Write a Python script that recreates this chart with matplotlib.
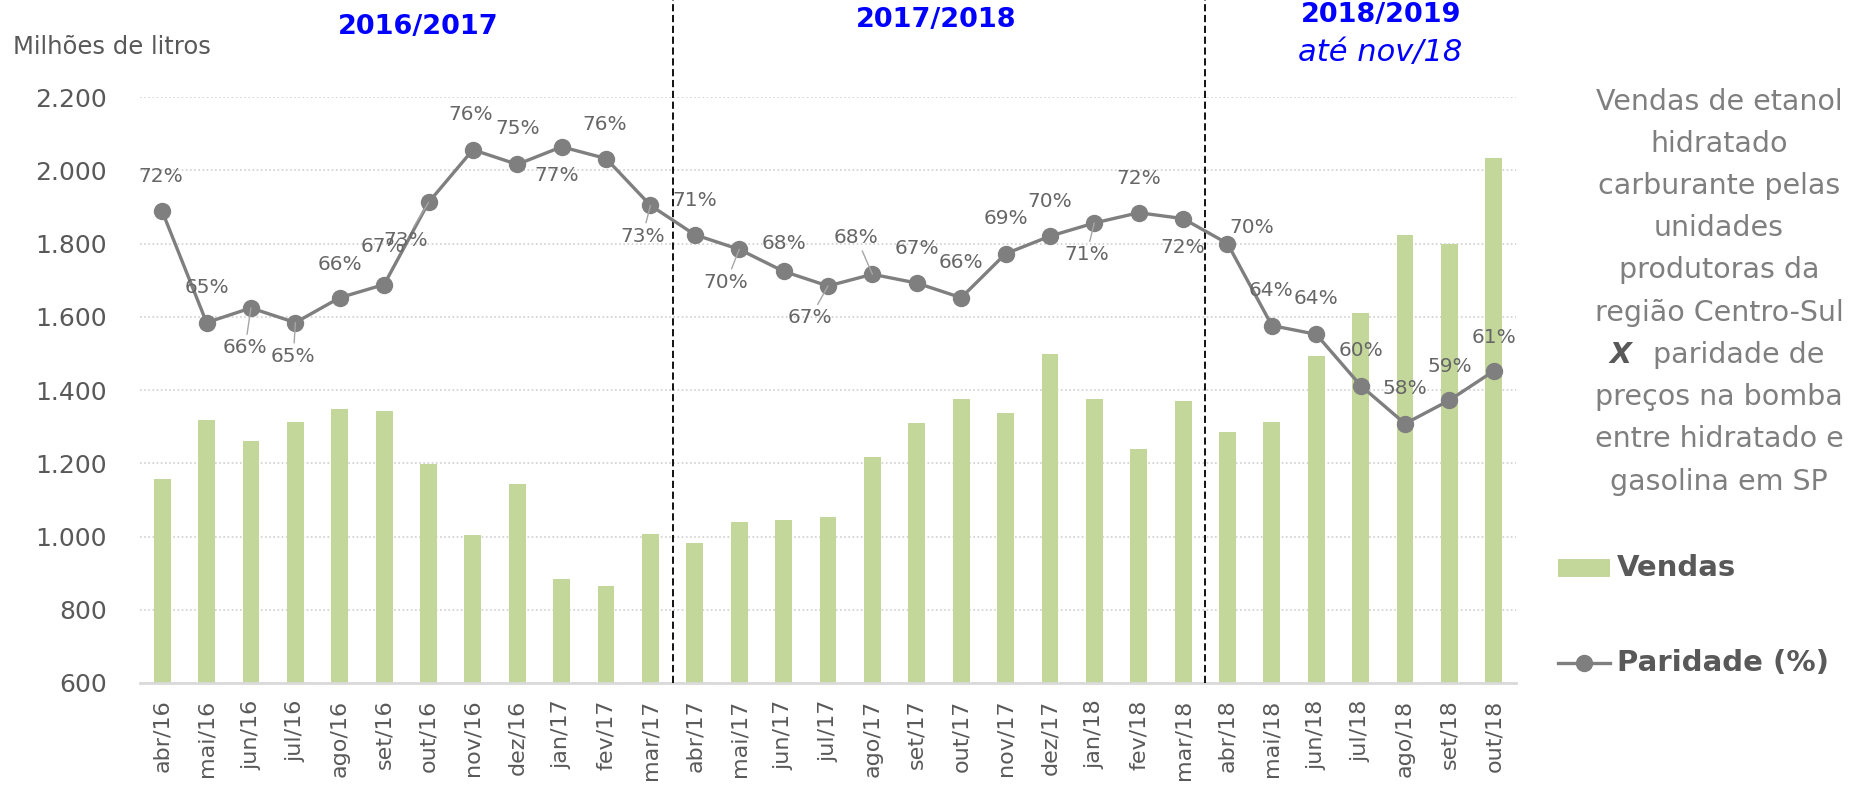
import matplotlib
matplotlib.use('Agg')
import matplotlib.pyplot as plt
from matplotlib.patches import Rectangle
from matplotlib.lines import Line2D
from matplotlib.ticker import FuncFormatter

# --- data ---
meses = ['abr/16', 'mai/16', 'jun/16', 'jul/16', 'ago/16', 'set/16', 'out/16', 'nov/16',
         'dez/16', 'jan/17', 'fev/17', 'mar/17',
         'abr/17', 'mai/17', 'jun/17', 'jul/17', 'ago/17', 'set/17', 'out/17', 'nov/17',
         'dez/17', 'jan/18', 'fev/18', 'mar/18',
         'abr/18', 'mai/18', 'jun/18', 'jul/18', 'ago/18', 'set/18', 'out/18']

# Vendas (milhões de litros)
vendas = [1157, 1318, 1260, 1313, 1348, 1342, 1197, 1003, 1142, 884, 865, 1007,
          983, 1039, 1045, 1054, 1218, 1309, 1375, 1336, 1497, 1375, 1240, 1370,
          1284, 1313, 1492, 1609, 1822, 1800, 2033]

# Paridade hidratado / gasolina em SP (%)
paridade = [72.2, 64.6, 65.6, 64.6, 66.3, 67.2, 72.8, 76.4, 75.4, 76.6, 75.8, 72.6,
            70.6, 69.6, 68.1, 67.1, 67.9, 67.3, 66.3, 69.3, 70.5, 71.4, 72.1, 71.7,
            70.0, 64.4, 63.8, 60.3, 57.7, 59.3, 61.3]

safras = ['2016/2017', '2017/2018', '2018/2019']
safra_sub = 'até nov/18'
legenda = ['Vendas', 'Paridade (%)']

# label placement (pixels from the point) and where a leader line is drawn
label_offsets = [(-1, 35), (0, 35), (-6, -40), (-2, -34), (0, 33), (-1, 38), (-23, -38),
                 (-2, 35), (0, 36), (-5, -29), (-1, 34), (-8, -31),
                 (0, 34), (-13, -33), (0, 28), (-18, -32), (-16, 37), (0, 35), (0, 35),
                 (0, 35), (0, 35), (-8, -32), (0, 34), (0, -29),
                 (24, 16), (-1, 35), (0, 36), (0, 35), (0, 35), (0, 34), (0, 33)]
leader = {2, 3, 6, 11, 13, 15, 16, 21}

side_text = ['Vendas de etanol', 'hidratado', 'carburante pelas', 'unidades',
             'produtoras da', 'região Centro-Sul', None, 'preços na bomba',
             'entre hidratado e', 'gasolina em SP']

plt.rcParams['font.family'] = ['DejaVu Sans']

bar_color = '#c4d79b'
line_color = '#7f7f7f'
text_gray = '#595959'

W, H = 1853, 785
fig = plt.figure(figsize=(W / 100, H / 100), dpi=100, facecolor='white')
ax = fig.add_axes([140 / W, 1 - 683 / H, (1516 - 140) / W, (683 - 97) / H])

x = list(range(len(meses)))
ax.bar(x, vendas, width=0.38, color=bar_color, zorder=2)

ax.set_xlim(-0.5, len(meses) - 0.5)
ax.set_ylim(600, 2200)
ax.set_yticks(range(600, 2201, 200))
ax.yaxis.set_major_formatter(FuncFormatter(lambda v, p: f'{v:,.0f}'.replace(',', '.')))
ax.set_xticks(x)
ax.set_xticklabels(meses, rotation=90)
ax.tick_params(axis='x', length=0, pad=12, labelsize=16, colors=text_gray)
ax.tick_params(axis='y', length=0, pad=24, labelsize=18, colors=text_gray)
ax.grid(True, axis='y', linestyle=(0, (1, 1.5)), color='#d0d0d0', linewidth=1.2, zorder=0)
ax.set_axisbelow(True)
for s in ['left', 'right', 'top']:
    ax.spines[s].set_visible(False)
ax.spines['bottom'].set_color('#d9d9d9')
ax.spines['bottom'].set_linewidth(2)

# dashed separators between harvest years, running up to the top of the figure
for xv in [11.5, 23.5]:
    ax.axvline(xv, ymin=0, ymax=1 + 97 / 586, color='black', linestyle=(0, (4, 2)),
               linewidth=1.3, clip_on=False, zorder=3)

# paridade on a hidden secondary axis
ax2 = ax.twinx()
ax2.set_ylim(40, 80)
ax2.axis('off')
ax2.plot(x, paridade, color=line_color, linewidth=2.4, marker='o', markersize=11.5,
         markerfacecolor=line_color, markeredgecolor=line_color, zorder=4)

for i, v in enumerate(paridade):
    dx, dy = label_offsets[i]
    arrow = None
    if i in leader:
        arrow = dict(arrowstyle='-', color='#a6a6a6', lw=1, shrinkA=1, shrinkB=0)
    ax2.annotate(f'{v:.0f}%', xy=(i, v), xytext=(dx, dy), textcoords='offset pixels',
                 ha='center', va='center', fontsize=14.5, color='#666666',
                 arrowprops=arrow, zorder=5)

# harvest titles
fig.text(418 / W, 1 - 27 / H, safras[0], ha='center', va='center', fontsize=19.5,
         fontweight='bold', color='#0000ff')
fig.text(936 / W, 1 - 20 / H, safras[1], ha='center', va='center', fontsize=19.5,
         fontweight='bold', color='#0000ff')
fig.text(1381 / W, 1 - 15 / H, safras[2], ha='center', va='center', fontsize=19.5,
         fontweight='bold', color='#0000ff')
fig.text(1380 / W, 1 - 53 / H, safra_sub, ha='center', va='center', fontsize=22,
         style='italic', color='#0000ff')

fig.text(13 / W, 1 - 47 / H, 'Milhões de litros', ha='left', va='center',
         fontsize=17.5, color=text_gray)

# description on the right
for k, line in enumerate(side_text):
    yy = 1 - (101.7 + k * 42.2) / H
    if line is None:
        fig.text(1620 / W, yy, 'X', ha='center', va='center', fontsize=20.5,
                 fontweight='bold', style='italic', color=text_gray)
        fig.text(1739 / W, yy, 'paridade de', ha='center', va='center', fontsize=20.5,
                 color='#7f7f7f')
    else:
        fig.text(1719 / W, yy, line, ha='center', va='center', fontsize=20.5,
                 color='#7f7f7f')

# legend, placed by hand in figure pixels
fig.patches.append(Rectangle((1558 / W, 1 - 577 / H), 52 / W, 18 / H,
                             transform=fig.transFigure, facecolor=bar_color,
                             edgecolor='none'))
fig.lines.append(Line2D([1558 / W, 1610 / W], [1 - 663 / H, 1 - 663 / H],
                        transform=fig.transFigure, color=line_color, linewidth=2.4))
fig.lines.append(Line2D([1584 / W], [1 - 663 / H], transform=fig.transFigure,
                        color=line_color, marker='o', markersize=11.5))
fig.text(1617 / W, 1 - 568 / H, legenda[0], ha='left', va='center', fontsize=21,
         fontweight='bold', color=text_gray)
fig.text(1617 / W, 1 - 663 / H, legenda[1], ha='left', va='center', fontsize=21,
         fontweight='bold', color=text_gray)

fig.savefig('out.png', dpi=100, facecolor='white')
